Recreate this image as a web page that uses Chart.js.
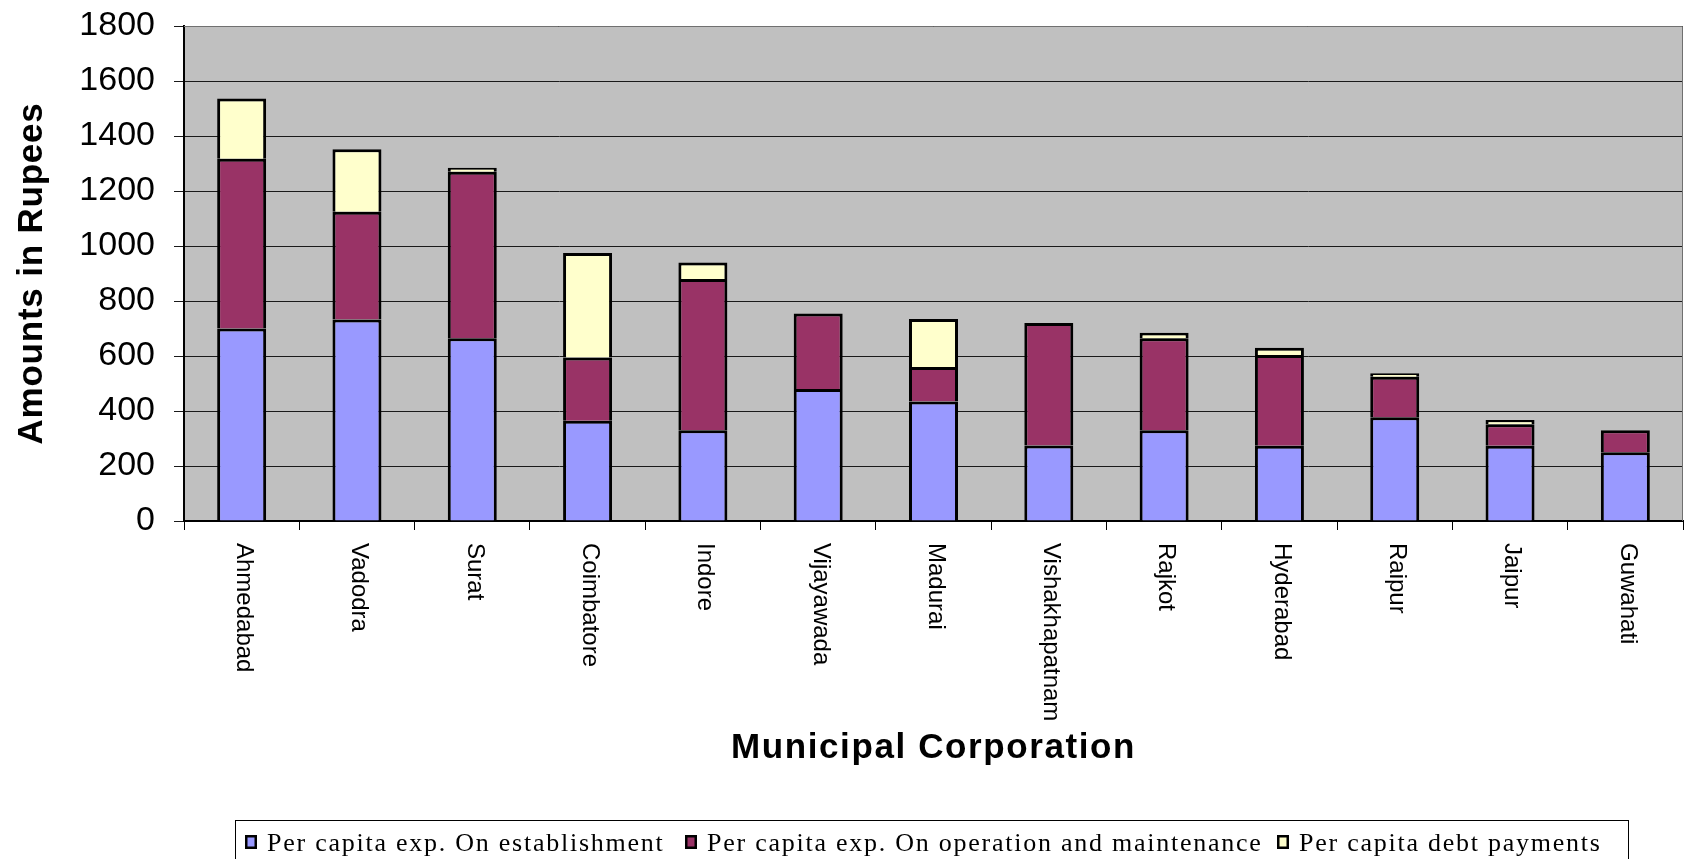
<!DOCTYPE html>
<html><head><meta charset="utf-8">
<script src="https://cdn.jsdelivr.net/npm/chart.js@4.4.1/dist/chart.umd.min.js"></script>
<style>html,body{margin:0;padding:0;background:#fff;overflow:hidden}canvas{display:block}</style>
</head><body>
<canvas id="c" width="1688" height="859"></canvas>
<script>
const categories = ['Ahmedabad','Vadodra','Surat','Coimbatore','Indore','Vijayawada','Madurai','Vishakhapatnam','Rajkot','Hyderabad','Raipur','Jaipur','Guwahati'];
const establishment = [700, 733, 665, 365, 330, 480, 435, 275, 330, 274, 377, 274, 250];
const operation     = [617, 392, 605, 230, 550, 275, 125, 445, 335, 330, 148, 78, 80];
const debt          = [219, 227, 15, 380, 60, 0, 175, 0, 20, 26, 12, 15, 0];
const seriesNames = ['Per capita exp. On establishment','Per capita exp. On operation and maintenance','Per capita debt payments'];
const yTicks = [0, 200, 400, 600, 800, 1000, 1200, 1400, 1600, 1800];
const xTitle = 'Municipal Corporation';
const yTitle = 'Amounts in Rupees';

const colors = ['#9999FF', '#993366', '#FFFFCC'];
const SANS = '"Liberation Sans", Arial, sans-serif';
const SERIF = '"Liberation Serif", "Times New Roman", serif';

const bgPlugin = {
  id: 'bg',
  beforeDraw(chart) {
    const {ctx, chartArea: a} = chart;
    ctx.save();
    ctx.fillStyle = '#C0C0C0';
    ctx.fillRect(a.left, a.top, a.right - a.left, a.bottom - a.top);
    ctx.restore();
  }
};

const decoPlugin = {
  id: 'deco',
  afterDraw(chart) {
    const {ctx, chartArea: a} = chart;
    const xs = chart.scales.x;
    ctx.save();
    // top / right plot border
    ctx.strokeStyle = '#707070';
    ctx.lineWidth = 1;
    ctx.beginPath();
    ctx.moveTo(a.left, a.top + 0.5); ctx.lineTo(a.right - 0.5, a.top + 0.5); ctx.lineTo(a.right - 0.5, a.bottom);
    ctx.stroke();

    // category labels, rotated clockwise
    ctx.fillStyle = '#000';
    ctx.font = '24px ' + SANS;
    ctx.textAlign = 'left';
    ctx.textBaseline = 'middle';
    categories.forEach((c, i) => {
      const px = xs.getPixelForValue(i);
      ctx.save();
      ctx.translate(px + 2, 543);
      ctx.rotate(Math.PI / 2);
      ctx.fillText(c, 0, 0);
      ctx.restore();
    });

    // axis titles
    ctx.font = 'bold 35px ' + SANS;
    ctx.letterSpacing = '1.6px';
    ctx.textAlign = 'center';
    ctx.textBaseline = 'middle';
    ctx.fillText(xTitle, (a.left + a.right) / 2, 748);
    ctx.save();
    ctx.translate(32, (a.top + a.bottom) / 2);
    ctx.rotate(-Math.PI / 2);
    ctx.letterSpacing = '0.8px';
    ctx.fillText(yTitle, 0, 0);
    ctx.restore();

    // legend
    ctx.letterSpacing = '0px';
    ctx.strokeStyle = '#000';
    ctx.lineWidth = 1;
    ctx.strokeRect(235.5, 820.5, 1393, 60);
    const itemX = [245, 685, 1277];
    ctx.font = '26px ' + SERIF;
    ctx.letterSpacing = '1.75px';
    ctx.textAlign = 'left';
    ctx.textBaseline = 'alphabetic';
    chart.data.datasets.forEach((ds, i) => {
      const x = itemX[i];
      ctx.fillStyle = '#000';
      ctx.fillRect(x, 835, 12, 14);
      ctx.fillStyle = ds.backgroundColor;
      ctx.fillRect(x + 2.5, 837.5, 7, 9);
      ctx.fillStyle = '#000';
      ctx.fillText(ds.label, x + 22, 851);
    });
    ctx.restore();
  }
};

new Chart(document.getElementById('c'), {
  type: 'bar',
  data: {
    labels: categories,
    datasets: [
      {label: seriesNames[0], data: establishment, backgroundColor: colors[0]},
      {label: seriesNames[1], data: operation, backgroundColor: colors[1]},
      {label: seriesNames[2], data: debt, backgroundColor: colors[2]}
    ].map(d => Object.assign(d, {borderColor: '#000', borderWidth: 3, barPercentage: 0.425, categoryPercentage: 1}))
  },
  options: {
    responsive: false,
    animation: false,
    devicePixelRatio: 1,
    layout: {padding: {top: 26, right: 5, left: 0, bottom: 0}},
    plugins: {legend: {display: false}, tooltip: {enabled: false}, title: {display: false}},
    scales: {
      x: {
        stacked: true,
        offset: true,
        grid: {offset: true, drawOnChartArea: false, drawTicks: true, tickLength: 9, color: '#000'},
        border: {color: '#000', width: 2},
        ticks: {display: false},
        afterFit(s) { s.height = 338; s.paddingLeft = 0; s.paddingRight = 0; }
      },
      y: {
        stacked: true,
        min: yTicks[0],
        max: yTicks[yTicks.length - 1],
        ticks: {stepSize: yTicks[1] - yTicks[0], color: '#000', padding: 19, font: {family: SANS, size: 34},
                callback: v => String(v)},
        grid: {color: '#1a1a1a', lineWidth: 1, tickLength: 10, drawTicks: true},
        border: {color: '#000', width: 2},
        afterFit(s) { s.width = 184; s.paddingTop = 0; s.paddingBottom = 0; }
      }
    }
  },
  plugins: [bgPlugin, decoPlugin]
});
</script>
</body></html>
